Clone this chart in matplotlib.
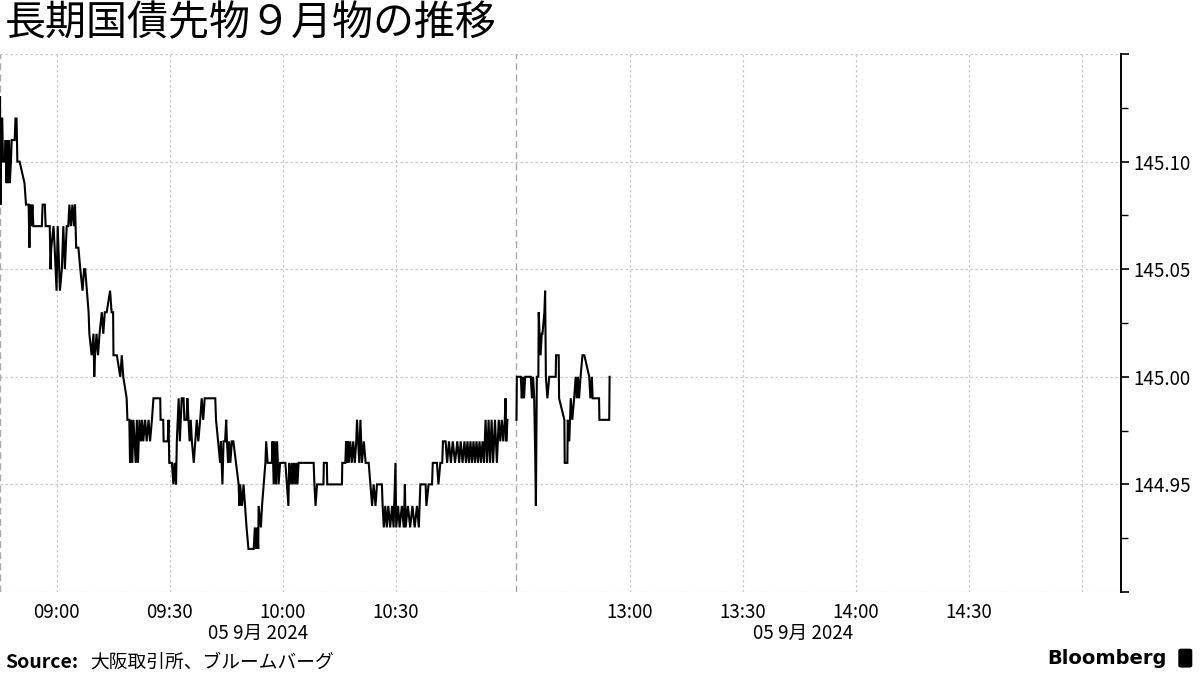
import matplotlib
matplotlib.use("Agg")
import matplotlib.pyplot as plt
from matplotlib.ticker import FixedLocator, NullFormatter
from matplotlib.patches import FancyBboxPatch

plt.rcParams['font.family'] = ['Noto Sans CJK JP', 'DejaVu Sans']

title = "長期国債先物９月物の推移"
source_label = "Source:"
source_text = "大阪取引所、ブルームバーグ"
date_label = "05 9月 2024"

# session layout (minutes)
am_open, am_close = "08:45", "11:02"
pm_open, pm_close = "12:30", "15:02"

# morning ticks: minutes after 08:45, price
am_minutes = [
    0.0, 0.15, 0.35, 0.6, 0.8, 1.3, 1.5, 1.7, 1.9, 2.1, 2.4, 2.6, 2.9, 3.1, 3.9, 4.1, 4.4, 4.6,
    5.2, 6.5, 6.9, 7.6, 7.8, 8.0, 8.3, 8.6, 8.85, 11.1, 11.3, 11.9, 12.1, 13.2, 13.4, 13.6,
    14.2, 14.5, 15.0, 15.3, 15.9, 16.4, 16.8, 17.2, 17.7, 18.1, 18.4, 18.8, 19.2, 19.6, 19.9,
    20.2, 20.8, 21.3, 21.9, 22.3, 22.6, 23.5, 23.7, 24.3, 24.8, 25.0, 25.2, 25.6, 26.0, 26.4,
    27.0, 27.4, 27.8, 28.3, 29.2, 29.6, 30.0, 30.1, 31.0, 31.9, 32.3, 32.7, 33.6, 33.8, 34.3,
    34.5, 34.8, 35.1, 35.4, 35.7, 36.0, 36.3, 36.6, 37.0, 37.4, 37.7, 38.0, 38.5, 38.9, 39.4,
    39.8, 40.3, 40.7, 42.5, 42.6, 43.3, 43.4, 44.5, 44.7, 44.9, 45.6, 46.0, 46.3, 46.7, 46.9,
    47.4, 47.7, 48.2, 48.7, 48.9, 49.5, 49.7, 50.0, 50.3, 50.6, 50.9, 51.4, 51.8, 52.2, 52.6,
    53.1, 53.5, 53.9, 54.3, 54.9, 57.1, 57.3, 58.4, 58.6, 59.0, 59.3, 59.7, 60.0, 60.2, 60.5,
    60.8, 61.1, 61.5, 61.9, 63.3, 63.5, 63.7, 64.2, 64.6, 65.0, 65.4, 65.9, 67.3, 67.6, 67.9,
    68.2, 68.5, 68.6, 69.2, 69.5, 70.4, 70.6, 71.0, 71.2, 72.1, 72.3, 72.6, 72.9, 73.2, 73.5,
    73.9, 74.3, 75.7, 76.5, 76.7, 77.1, 77.4, 77.7, 78.0, 78.3, 78.6, 78.9, 79.2, 83.2, 83.4,
    83.7, 84.1, 85.8, 85.9, 86.7, 86.8, 90.7, 90.8, 91.6, 91.8, 92.0, 92.3, 92.5, 92.9, 93.3,
    93.7, 94.1, 94.5, 94.7, 95.0, 95.3, 95.6, 96.0, 96.5, 97.0, 97.8, 98.7, 99.1, 99.6, 100.0,
    101.3, 101.5, 101.8, 102.2, 102.6, 103.0, 103.5, 104.0, 104.4, 104.9, 105.1, 105.6, 106.0,
    106.6, 107.1, 107.4, 107.6, 108.2, 108.8, 109.4, 110.0, 110.6, 111.1, 111.5, 112.9, 113.1,
    113.7, 114.6, 114.8, 115.9, 116.3, 116.8, 117.3, 117.5, 118.2, 118.6, 119.1, 119.6, 120.1,
    120.7, 121.3, 121.8, 122.2, 122.7, 123.2, 123.6, 124.0, 124.4, 124.8, 125.2, 125.6, 126.0,
    126.4, 126.8, 127.2, 127.6, 128.0, 128.4, 128.8, 129.2, 129.6, 130.0, 130.4, 130.8, 131.3,
    131.8, 132.3, 132.7, 133.1, 133.5, 133.9, 134.1, 134.3, 134.6,
]
am_price = [
    145.13, 145.08, 145.12, 145.12, 145.10, 145.10, 145.11, 145.09, 145.11, 145.09, 145.11, 145.09, 145.10, 145.11, 145.11, 145.12, 145.12, 145.10,
    145.10, 145.09, 145.08, 145.08, 145.06, 145.08, 145.07, 145.08, 145.07, 145.07, 145.08, 145.08, 145.07, 145.07, 145.05, 145.06,
    145.07, 145.06, 145.04, 145.07, 145.04, 145.05, 145.07, 145.05, 145.07, 145.07, 145.08, 145.07, 145.08, 145.07, 145.08,
    145.06, 145.06, 145.05, 145.04, 145.05, 145.05, 145.03, 145.02, 145.01, 145.02, 145.00, 145.01, 145.02, 145.01, 145.02,
    145.03, 145.02, 145.03, 145.03, 145.04, 145.03, 145.03, 145.01, 145.01, 145.00, 145.01, 145.00, 144.99, 144.98, 144.98,
    144.96, 144.98, 144.96, 144.98, 144.97, 144.96, 144.98, 144.96, 144.98, 144.97, 144.98, 144.97, 144.98, 144.97, 144.98,
    144.97, 144.98, 144.99, 144.99, 144.98, 144.98, 144.97, 144.97, 144.98, 144.96, 144.96, 144.95, 144.96, 144.95, 144.97,
    144.99, 144.97, 144.99, 144.99, 144.98, 144.98, 144.99, 144.98, 144.97, 144.98, 144.97, 144.96, 144.97, 144.98, 144.97,
    144.98, 144.99, 144.98, 144.99, 144.99, 144.99, 144.98, 144.96, 144.97, 144.95, 144.97, 144.97, 144.98, 144.97, 144.96,
    144.97, 144.96, 144.97, 144.97, 144.95, 144.94, 144.95, 144.94, 144.95, 144.94, 144.93, 144.92, 144.92, 144.93, 144.92,
    144.93, 144.92, 144.94, 144.93, 144.94, 144.96, 144.97, 144.96, 144.96, 144.96, 144.97, 144.95, 144.97, 144.95, 144.97,
    144.95, 144.96, 144.96, 144.94, 144.96, 144.95, 144.96, 144.95, 144.96, 144.95, 144.96, 144.95, 144.96, 144.96, 144.95,
    144.94, 144.95, 144.95, 144.96, 144.96, 144.95, 144.95, 144.96, 144.96, 144.97, 144.96, 144.97, 144.96, 144.97, 144.96,
    144.97, 144.96, 144.97, 144.98, 144.97, 144.96, 144.98, 144.96, 144.97, 144.96, 144.96, 144.94, 144.95, 144.94, 144.95,
    144.95, 144.94, 144.93, 144.94, 144.93, 144.94, 144.93, 144.94, 144.93, 144.96, 144.93, 144.94, 144.93,
    144.94, 144.93, 144.95, 144.93, 144.94, 144.93, 144.94, 144.93, 144.94, 144.93, 144.95, 144.95, 144.94,
    144.95, 144.95, 144.96, 144.96, 144.95, 144.96, 144.96, 144.97, 144.97, 144.96, 144.97, 144.96, 144.97,
    144.96, 144.97, 144.96, 144.97, 144.96, 144.97, 144.96, 144.97, 144.96, 144.97, 144.96, 144.97, 144.96,
    144.97, 144.96, 144.97, 144.96, 144.97, 144.96, 144.98, 144.96, 144.98, 144.96, 144.98, 144.96, 144.98,
    144.96, 144.98, 144.97, 144.98, 144.97, 144.98, 144.99, 144.97, 144.98,
]

# afternoon ticks: minutes after 12:30, price
pm_minutes = [
    0.0, 0.1, 1.15, 1.4, 1.7, 2.0, 2.3, 3.8, 4.1, 4.4, 4.7, 5.0, 5.15, 5.4, 5.8, 5.9, 6.1, 6.4,
    6.7, 6.9, 7.4, 7.6, 7.8, 8.2, 8.7, 10.4, 10.5, 11.2, 11.3, 12.7, 12.8, 13.5, 13.6, 14.0,
    14.4, 14.8, 15.3, 15.7, 16.0, 16.3, 16.6, 17.0, 17.5, 18.0, 19.3, 19.6, 20.0, 20.2, 21.9,
    22.0, 24.6, 24.7,
]
pm_price = [
    144.98, 145.00, 145.00, 144.99, 145.00, 144.99, 145.00, 145.00, 144.99, 145.00, 144.99, 144.96, 144.94, 145.00, 145.00, 145.03, 145.02, 145.01,
    145.02, 145.02, 145.03, 145.04, 145.00, 144.99, 145.00, 145.00, 145.01, 145.01, 144.99, 144.98, 144.96, 144.96, 144.98, 144.97,
    144.99, 144.98, 144.99, 145.00, 144.99, 145.00, 144.99, 145.00, 145.01, 145.01, 145.00, 144.99, 145.00, 144.99, 144.99,
    144.98, 144.98, 145.00,
]

tick_labels = ["09:00", "09:30", "10:00", "10:30", "13:00", "13:30", "14:00", "14:30"]
extra_grid = ["15:00"]
y_labels = {145.10: "145.10", 145.05: "145.05", 145.00: "145.00", 144.95: "144.95"}


def to_min(hhmm):
    h, m = hhmm.split(":")
    return int(h) * 60 + int(m)


AM_LEN = to_min(am_close) - to_min(am_open)


def pos(hhmm):
    # compressed axis: lunch break removed
    t = to_min(hhmm)
    if t <= to_min(am_close):
        return t - to_min(am_open)
    return AM_LEN + t - to_min(pm_open)


fig = plt.figure(figsize=(12, 6.75), dpi=100)
ax = fig.add_axes([0.0, 0.123, 0.934, 0.797])

am_x = list(am_minutes)
pm_x = [AM_LEN + m for m in pm_minutes]
ax.plot(am_x, am_price, color="black", lw=1.5, solid_joinstyle="miter")
ax.plot(pm_x, pm_price, color="black", lw=1.5, solid_joinstyle="miter")

ax.set_xlim(0, 297.3)
ax.set_ylim(144.90, 145.15)

# grid
for lab in tick_labels + extra_grid:
    ax.axvline(pos(lab), color="#c8c8c8", lw=0.9, ls=(0, (2, 2)), zorder=0)
for yv in [144.90, 144.95, 145.00, 145.05, 145.10, 145.15]:
    ax.axhline(yv, color="#c8c8c8", lw=0.9, ls=(0, (2, 2)), zorder=0)
for xv in [0, AM_LEN]:
    ax.axvline(xv, color="#aaaaaa", lw=1.0, ls=(0, (5, 3)), zorder=0)

ax.set_xticks([pos(l) for l in tick_labels])
ax.set_xticklabels(tick_labels, fontsize=13.5)
ax.tick_params(axis="x", length=0, pad=7)

ax.yaxis.tick_right()
majors = [144.90, 144.95, 145.00, 145.05, 145.10, 145.15]
ax.set_yticks(majors)
ax.set_yticklabels([y_labels.get(round(v, 2), "") for v in majors], fontsize=13.5)
ax.yaxis.set_minor_locator(FixedLocator([144.925, 144.975, 145.025, 145.075, 145.125]))
ax.yaxis.set_minor_formatter(NullFormatter())
ax.tick_params(axis="y", which="major", length=6, width=1.2, direction="out", pad=3)
ax.tick_params(axis="y", which="minor", length=5, width=1.0, direction="out")

for s in ["top", "left", "bottom"]:
    ax.spines[s].set_visible(False)
ax.spines["right"].set_linewidth(1.4)

# date labels under each session
am_mid = (pos(am_open) + pos(am_close)) / 2
pm_mid = (pos(pm_open) + pos(pm_close)) / 2
for xm in [am_mid, pm_mid]:
    ax.text(xm, -0.057, date_label, transform=ax.get_xaxis_transform(),
            ha="center", va="top", fontsize=13.5)

fig.text(0.004, 0.995, title, fontsize=29.5, va="top", ha="left")

fig.text(0.004, 0.019, source_label, fontsize=14, fontweight="bold", va="center", ha="left")
fig.text(0.075, 0.019, source_text, fontsize=13.5, va="center", ha="left")

fig.text(0.972, 0.025, "Bloomberg", fontsize=14, fontweight="bold", va="center", ha="right",
         family=["DejaVu Sans"])
icon = FancyBboxPatch((0.9835, 0.013), 0.0085, 0.024, boxstyle="round,pad=0.001,rounding_size=0.002",
                      transform=fig.transFigure, facecolor="black", edgecolor="black")
fig.patches.append(icon)

fig.savefig("out.png", dpi=100)
